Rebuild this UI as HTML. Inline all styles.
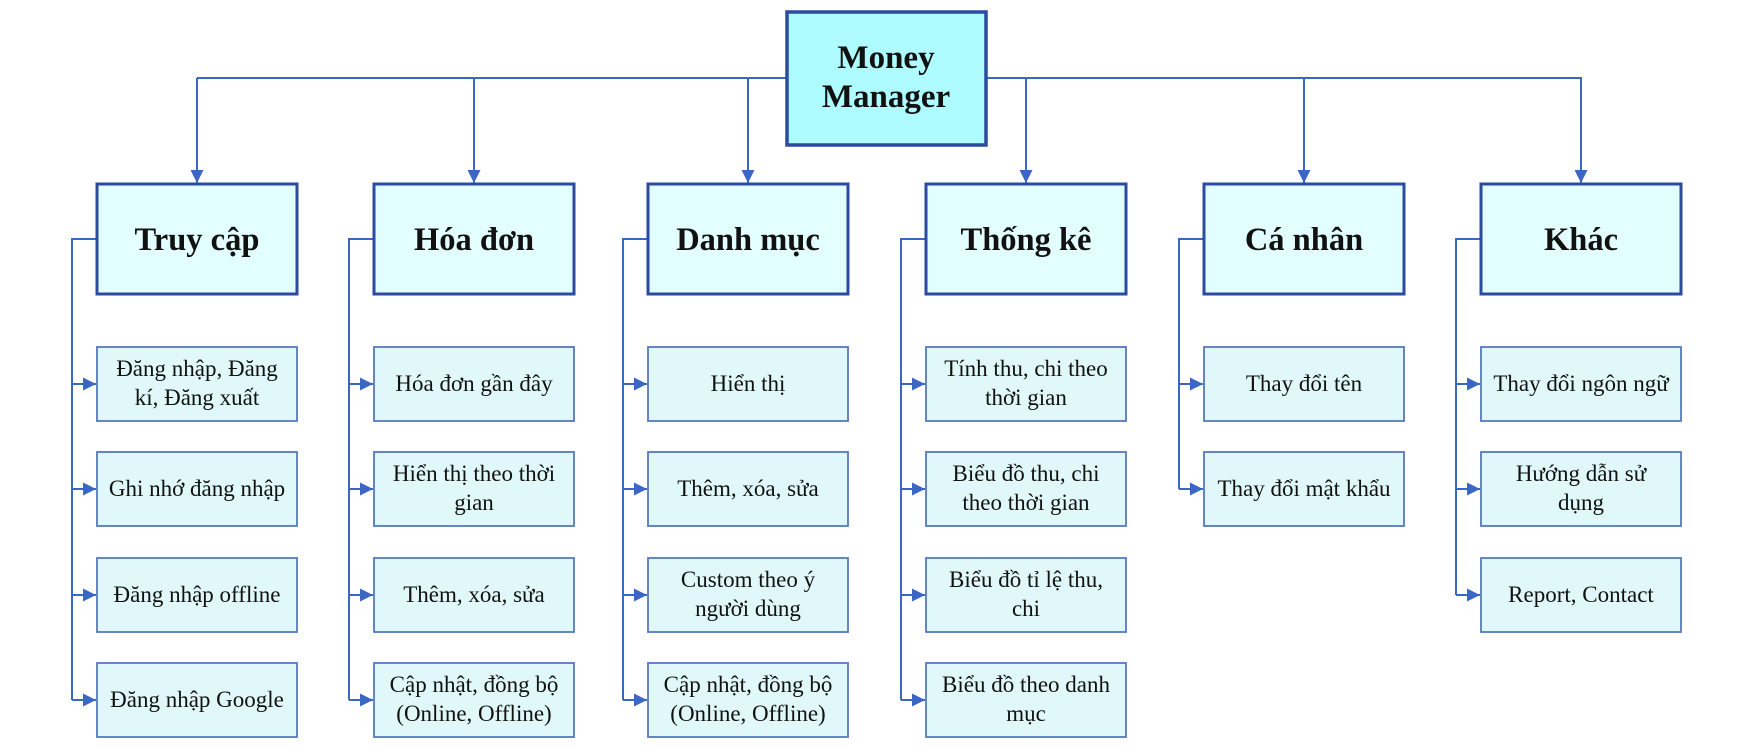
<!DOCTYPE html>
<html><head><meta charset="utf-8"><style>
html,body{margin:0;padding:0;background:#fff;}
svg{display:block;}
text{font-family:"Liberation Serif",serif;fill:#111;text-anchor:middle;}
.l1{font-size:32.5px;font-weight:bold;}
.c{font-size:23px;}
.ln{stroke:#3a66c4;stroke-width:2;fill:none;}
.b1{fill:#e2feff;stroke:#2b4aa0;stroke-width:3;}
.b2{fill:#e0f8f9;stroke:#5878c0;stroke-width:1.8;}
</style></head><body>
<svg width="1744" height="746" viewBox="0 0 1744 746" xmlns="http://www.w3.org/2000/svg">
<defs>
<marker id="a" viewBox="0 0 10 10" refX="10" refY="5" markerWidth="6.5" markerHeight="7" orient="auto" markerUnits="strokeWidth">
<path d="M0,0 L10,5 L0,10 z" fill="#3a66c4"/></marker>
</defs>
<line class="ln" x1="197" y1="78" x2="1582" y2="78"/>
<line class="ln" x1="197" y1="78" x2="197" y2="183" marker-end="url(#a)"/>
<line class="ln" x1="474" y1="78" x2="474" y2="183" marker-end="url(#a)"/>
<line class="ln" x1="748" y1="78" x2="748" y2="183" marker-end="url(#a)"/>
<line class="ln" x1="1026" y1="78" x2="1026" y2="183" marker-end="url(#a)"/>
<line class="ln" x1="1304" y1="78" x2="1304" y2="183" marker-end="url(#a)"/>
<line class="ln" x1="1581" y1="78" x2="1581" y2="183" marker-end="url(#a)"/>
<rect x="787" y="12" width="199" height="133" fill="#aefcff" stroke="#2b4aa0" stroke-width="3.5"/>
<text x="886" y="68" style="font-size:33px;font-weight:bold">Money</text>
<text x="886" y="107" style="font-size:33px;font-weight:bold">Manager</text>

<!-- Col 1 -->
<path class="ln" d="M97,239 H72 V700"/>
<rect class="b1" x="97" y="184" width="200" height="110"/>
<text class="l1" x="197" y="250">Truy cập</text>
<line class="ln" x1="72" y1="384" x2="96" y2="384" marker-end="url(#a)"/>
<rect class="b2" x="97" y="347" width="200" height="74"/>
<text class="c" x="197" y="376">Đăng nhập, Đăng</text><text class="c" x="197" y="405">kí, Đăng xuất</text>
<line class="ln" x1="72" y1="489" x2="96" y2="489" marker-end="url(#a)"/>
<rect class="b2" x="97" y="452" width="200" height="74"/>
<text class="c" x="197" y="496">Ghi nhớ đăng nhập</text>
<line class="ln" x1="72" y1="595" x2="96" y2="595" marker-end="url(#a)"/>
<rect class="b2" x="97" y="558" width="200" height="74"/>
<text class="c" x="197" y="602">Đăng nhập offline</text>
<line class="ln" x1="72" y1="700" x2="96" y2="700" marker-end="url(#a)"/>
<rect class="b2" x="97" y="663" width="200" height="74"/>
<text class="c" x="197" y="707">Đăng nhập Google</text>

<!-- Col 2 -->
<path class="ln" d="M374,239 H349 V700"/>
<rect class="b1" x="374" y="184" width="200" height="110"/>
<text class="l1" x="474" y="250">Hóa đơn</text>
<line class="ln" x1="349" y1="384" x2="373" y2="384" marker-end="url(#a)"/>
<rect class="b2" x="374" y="347" width="200" height="74"/>
<text class="c" x="474" y="391">Hóa đơn gần đây</text>
<line class="ln" x1="349" y1="489" x2="373" y2="489" marker-end="url(#a)"/>
<rect class="b2" x="374" y="452" width="200" height="74"/>
<text class="c" x="474" y="481">Hiển thị theo thời</text><text class="c" x="474" y="510">gian</text>
<line class="ln" x1="349" y1="595" x2="373" y2="595" marker-end="url(#a)"/>
<rect class="b2" x="374" y="558" width="200" height="74"/>
<text class="c" x="474" y="602">Thêm, xóa, sửa</text>
<line class="ln" x1="349" y1="700" x2="373" y2="700" marker-end="url(#a)"/>
<rect class="b2" x="374" y="663" width="200" height="74"/>
<text class="c" x="474" y="692">Cập nhật, đồng bộ</text><text class="c" x="474" y="721">(Online, Offline)</text>

<!-- Col 3 -->
<path class="ln" d="M648,239 H623 V700"/>
<rect class="b1" x="648" y="184" width="200" height="110"/>
<text class="l1" x="748" y="250">Danh mục</text>
<line class="ln" x1="623" y1="384" x2="647" y2="384" marker-end="url(#a)"/>
<rect class="b2" x="648" y="347" width="200" height="74"/>
<text class="c" x="748" y="391">Hiển thị</text>
<line class="ln" x1="623" y1="489" x2="647" y2="489" marker-end="url(#a)"/>
<rect class="b2" x="648" y="452" width="200" height="74"/>
<text class="c" x="748" y="496">Thêm, xóa, sửa</text>
<line class="ln" x1="623" y1="595" x2="647" y2="595" marker-end="url(#a)"/>
<rect class="b2" x="648" y="558" width="200" height="74"/>
<text class="c" x="748" y="587">Custom theo ý</text><text class="c" x="748" y="616">người dùng</text>
<line class="ln" x1="623" y1="700" x2="647" y2="700" marker-end="url(#a)"/>
<rect class="b2" x="648" y="663" width="200" height="74"/>
<text class="c" x="748" y="692">Cập nhật, đồng bộ</text><text class="c" x="748" y="721">(Online, Offline)</text>

<!-- Col 4 -->
<path class="ln" d="M926,239 H901 V700"/>
<rect class="b1" x="926" y="184" width="200" height="110"/>
<text class="l1" x="1026" y="250">Thống kê</text>
<line class="ln" x1="901" y1="384" x2="925" y2="384" marker-end="url(#a)"/>
<rect class="b2" x="926" y="347" width="200" height="74"/>
<text class="c" x="1026" y="376">Tính thu, chi theo</text><text class="c" x="1026" y="405">thời gian</text>
<line class="ln" x1="901" y1="489" x2="925" y2="489" marker-end="url(#a)"/>
<rect class="b2" x="926" y="452" width="200" height="74"/>
<text class="c" x="1026" y="481">Biểu đồ thu, chi</text><text class="c" x="1026" y="510">theo thời gian</text>
<line class="ln" x1="901" y1="595" x2="925" y2="595" marker-end="url(#a)"/>
<rect class="b2" x="926" y="558" width="200" height="74"/>
<text class="c" x="1026" y="587">Biểu đồ tỉ lệ thu,</text><text class="c" x="1026" y="616">chi</text>
<line class="ln" x1="901" y1="700" x2="925" y2="700" marker-end="url(#a)"/>
<rect class="b2" x="926" y="663" width="200" height="74"/>
<text class="c" x="1026" y="692">Biểu đồ theo danh</text><text class="c" x="1026" y="721">mục</text>

<!-- Col 5 -->
<path class="ln" d="M1204,239 H1179 V489"/>
<rect class="b1" x="1204" y="184" width="200" height="110"/>
<text class="l1" x="1304" y="250">Cá nhân</text>
<line class="ln" x1="1179" y1="384" x2="1203" y2="384" marker-end="url(#a)"/>
<rect class="b2" x="1204" y="347" width="200" height="74"/>
<text class="c" x="1304" y="391">Thay đổi tên</text>
<line class="ln" x1="1179" y1="489" x2="1203" y2="489" marker-end="url(#a)"/>
<rect class="b2" x="1204" y="452" width="200" height="74"/>
<text class="c" x="1304" y="496">Thay đổi mật khẩu</text>

<!-- Col 6 -->
<path class="ln" d="M1481,239 H1456 V595"/>
<rect class="b1" x="1481" y="184" width="200" height="110"/>
<text class="l1" x="1581" y="250">Khác</text>
<line class="ln" x1="1456" y1="384" x2="1480" y2="384" marker-end="url(#a)"/>
<rect class="b2" x="1481" y="347" width="200" height="74"/>
<text class="c" x="1581" y="391">Thay đổi ngôn ngữ</text>
<line class="ln" x1="1456" y1="489" x2="1480" y2="489" marker-end="url(#a)"/>
<rect class="b2" x="1481" y="452" width="200" height="74"/>
<text class="c" x="1581" y="481">Hướng dẫn sử</text><text class="c" x="1581" y="510">dụng</text>
<line class="ln" x1="1456" y1="595" x2="1480" y2="595" marker-end="url(#a)"/>
<rect class="b2" x="1481" y="558" width="200" height="74"/>
<text class="c" x="1581" y="602">Report, Contact</text>
</svg>
</body></html>
